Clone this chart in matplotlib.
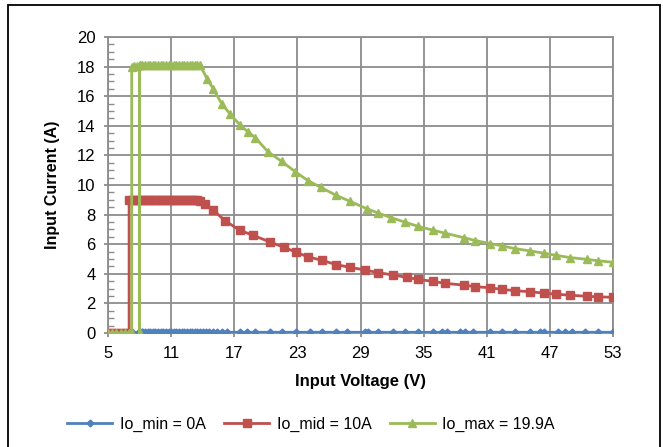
import matplotlib
matplotlib.use("Agg")
import matplotlib.pyplot as plt
from matplotlib.patches import Rectangle
from matplotlib.ticker import MultipleLocator

plt.rcParams['font.family'] = ['Liberation Sans', 'DejaVu Sans']

# Input voltage sweep (V) and input current (A)
flat_v = [8.25, 8.5, 8.75, 9.0, 9.25, 9.5, 9.75, 10.0, 10.25, 10.5, 10.75, 11.0,
          11.25, 11.5, 11.75, 12.0, 12.25, 12.5, 12.75, 13.0, 13.25, 13.5]

min_v = [5.0, 5.4, 5.8, 6.2, 6.6, 7.0, 7.4, 7.8, 8.2] + flat_v + \
        [13.75, 14.0, 14.3, 14.6, 15.0, 15.4, 15.8, 16.3, 17.55, 18.2, 19.0, 20.4,
         21.5, 22.9, 24.2, 25.3, 26.7, 27.7, 29.4, 29.7, 30.7, 32.1, 33.2, 34.5,
         35.9, 36.7, 37.2, 38.5, 38.9, 39.7, 41.3, 42.4, 43.7, 45.1, 46.1, 46.4,
         47.8, 48.4, 49.1, 50.3, 51.6, 53.0]
min_i = [0.0] * 8 + [0.05] * (len(min_v) - 8)

mid_v = [5.0, 5.4, 5.8, 6.2, 6.6, 7.0, 7.0, 7.25, 7.5, 7.75, 8.0] + flat_v + \
        [13.75, 14.2, 15.0, 16.1, 17.5, 18.8, 20.4, 21.7, 22.9, 24.0, 25.3, 26.7,
         28.0, 29.4, 30.7, 32.1, 33.4, 34.5, 35.9, 37.0, 38.8, 39.9, 41.3, 42.4,
         43.7, 45.1, 46.4, 47.6, 48.9, 50.5, 51.6, 53.0]
mid_i = [0.0] * 6 + [9.0] * (5 + len(flat_v)) + \
        [8.95, 8.7, 8.3, 7.6, 6.95, 6.6, 6.15, 5.8, 5.45, 5.15, 4.92, 4.62,
         4.44, 4.26, 4.08, 3.92, 3.76, 3.62, 3.49, 3.36, 3.24, 3.13, 3.06, 2.95,
         2.86, 2.79, 2.7, 2.62, 2.56, 2.48, 2.45, 2.41]

max_v = [5.0, 5.4, 5.8, 6.2, 6.6, 7.0, 7.25, 7.25, 7.5, 7.75, 8.0, 8.0, 8.0] + flat_v + \
        [13.75, 14.4, 15.0, 15.8, 16.6, 17.55, 18.3, 19.0, 20.2, 21.5, 22.8, 24.0,
         25.2, 26.7, 28.0, 29.6, 30.7, 31.9, 33.2, 34.5, 35.9, 37.0, 38.8, 39.9,
         41.3, 42.4, 43.7, 45.1, 46.4, 47.6, 48.9, 50.5, 51.6, 53.0]
max_i = [0.0] * 7 + [18.0, 18.05, 18.05, 18.1, 0.0, 18.1] + [18.1] * len(flat_v) + \
        [18.1, 17.2, 16.5, 15.5, 14.8, 14.05, 13.6, 13.2, 12.25, 11.6, 10.9, 10.3,
         9.85, 9.3, 8.9, 8.4, 8.1, 7.8, 7.5, 7.2, 6.95, 6.75, 6.45, 6.25,
         6.05, 5.9, 5.7, 5.55, 5.4, 5.25, 5.1, 4.98, 4.88, 4.78]

x_ticks = [5, 11, 17, 23, 29, 35, 41, 47, 53]
y_ticks = [0, 2, 4, 6, 8, 10, 12, 14, 16, 18, 20]

fig = plt.figure(figsize=(6.63, 4.47), dpi=100)
ax = fig.add_axes([0.163, 0.255, 0.7616, 0.662])

ax.plot(min_v, min_i, color='#4F81BD', lw=2.0, marker='D', ms=3.5, label='Io_min = 0A', zorder=3)
ax.plot(mid_v, mid_i, color='#C0504D', lw=2.0, marker='s', ms=5.5, label='Io_mid = 10A', zorder=4)
ax.plot(max_v, max_i, color='#9BBB59', lw=2.0, marker='^', ms=6, label='Io_max = 19.9A', zorder=5)

ax.set_xlim(5, 53)
ax.set_ylim(0, 20)
ax.set_xticks(x_ticks)
ax.set_yticks(y_ticks)
ax.yaxis.set_minor_locator(MultipleLocator(0.5))
ax.grid(True, which='major', color='#8C8C8C', lw=1.3)
ax.set_axisbelow(True)
for s in ax.spines.values():
    s.set_color('#8C8C8C')
    s.set_linewidth(1.3)

ax.tick_params(axis='both', which='major', labelsize=12, color='#8C8C8C', length=3, width=1.3)
ax.tick_params(axis='y', which='minor', direction='in', length=4, color='#8C8C8C', width=1)
ax.tick_params(axis='y', which='major', pad=6)
ax.tick_params(axis='x', which='major', pad=6)

ax.set_xlabel('Input Voltage (V)', fontsize=12, fontweight='bold', labelpad=10)
ax.set_ylabel('Input Current (A)', fontsize=11.5, fontweight='bold', labelpad=12)

fig.legend(loc='center', bbox_to_anchor=(0.469, 0.051), ncol=3, frameon=False,
           fontsize=11.5, handlelength=2.85, handletextpad=0.45, columnspacing=1.15)

fig.patches.append(Rectangle((8 / 663, -0.02), 652 / 663, 1.02 - 5 / 447,
                             transform=fig.transFigure, fill=False,
                             edgecolor='black', lw=1.3))

fig.savefig('out.png', dpi=100)
